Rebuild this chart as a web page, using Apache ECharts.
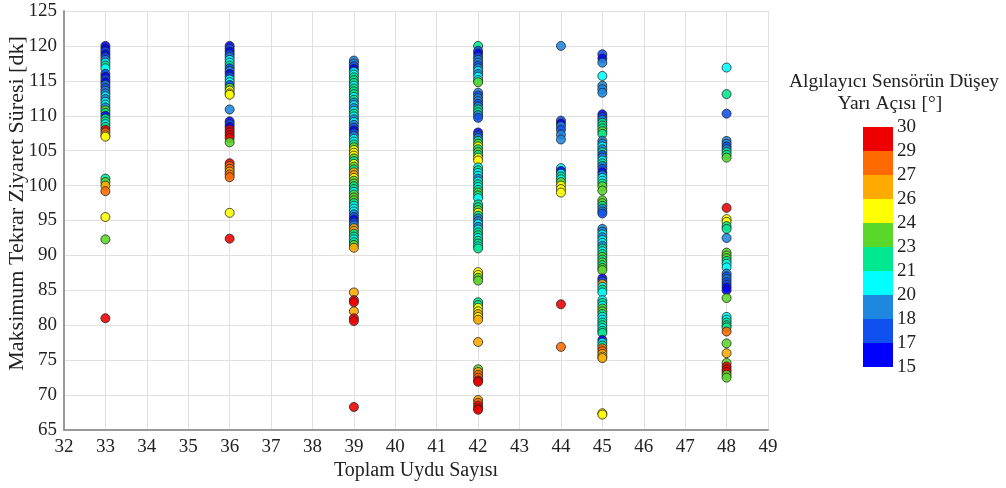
<!DOCTYPE html>
<html>
<head>
  <meta charset="utf-8">
  <title>Toplam Uydu Sayısı</title>
  <script src="https://cdn.jsdelivr.net/npm/echarts@6/dist/echarts.min.js"></script>
  <style>
    body { margin: 0; padding: 0; background: #fff; }
    #main { width: 1006px; height: 488px; }
  </style>
</head>
<body>
<div id="main"></div>
<script>
  // [y, angle] pairs per satellite count
  var col33 = [[120, 16], [119.6, 16], [119.2, 17.5], [118.8, 16], [118.4, 17.5], [118, 19], [117.6, 20.5], [117.2, 22], [116.8, 20.5],
    [116, 17.5], [115.6, 16], [115.2, 17.5], [114.8, 16], [114.4, 19], [114, 17.5], [113.6, 19], [113.2, 19], [112.8, 20.5],
    [112.4, 19], [112, 20.5], [111.6, 20.5], [111.2, 19], [110.8, 23.5], [110.4, 22], [110, 16], [109.6, 22], [109.2, 22],
    [108.8, 20.5], [108.4, 22], [108, 29.5], [107.6, 28], [107.2, 25], [107, 25],
    [101, 22], [100.5, 23.5], [100, 26.5], [99.2, 28], [95.5, 25], [92.3, 23.5], [81, 29.5]];
  var col36 = [[120, 16], [119.6, 17.5], [119.2, 16], [118.8, 17.5], [118.4, 19], [118, 20.5], [117.6, 20.5], [117.2, 22],
    [116.8, 17.5], [116.4, 19], [116, 16], [115.6, 17.5], [115.2, 20.5], [114.8, 20.5], [114.4, 17.5], [114, 23.5],
    [113.6, 25], [113.2, 25], [113, 25], [110.9, 19], [109.2, 16], [108.8, 17], [108.4, 16], [108, 29.5], [107.6, 29.5],
    [107.2, 29.5], [106.8, 29.5], [106.2, 23.5], [103.2, 29.5], [102.8, 28], [102.4, 28], [102, 26.5], [101.6, 28],
    [101.2, 28], [96.1, 25], [92.4, 29.5]];
  var col39 = [[117.9, 19], [117.5, 18], [117.1, 17.5], [116.7, 16], [116.3, 20.5], [115.9, 20.5], [115.5, 22], [115.1, 22],
    [114.7, 22], [114.3, 20.5], [113.9, 22], [113.5, 22], [113.1, 22], [112.7, 20.5], [112.3, 22], [111.9, 19], [111.5, 20.5],
    [111.1, 19], [110.7, 20.5], [110.3, 22], [109.9, 20.5], [109.5, 19], [109.1, 20.5], [108.7, 19], [108.3, 17.5], [107.9, 16],
    [107.5, 17.5], [107.1, 19], [106.7, 20.5], [106.3, 20.5], [105.9, 22], [105.5, 23.5], [105.1, 25], [104.7, 25], [104.3, 25],
    [103.9, 23.5], [103.5, 22], [103.1, 25], [102.7, 23.5], [102.3, 22], [101.9, 26.5], [101.5, 26.5], [101.1, 25], [100.7, 23.5],
    [100.3, 23.5], [99.9, 22], [99.5, 22], [99.1, 20.5], [98.7, 23.5], [98.3, 23.5], [97.9, 23.5], [97.5, 22], [97.1, 20.5],
    [96.7, 20.5], [96.3, 20.5], [95.9, 19], [95.5, 17.5], [95.1, 16], [94.7, 17.5], [94.3, 19], [93.9, 26.5], [93.5, 26.5],
    [93.1, 22], [92.7, 22], [92.3, 20.5], [91.9, 22], [91.5, 23.5], [91.1, 26.5],
    [84.7, 26.5], [83.6, 29.5], [83.3, 29.5], [82, 26.5], [81, 29.5], [80.6, 29.5], [68.3, 29.5]];
  var col42 = [[120, 22], [119.3, 17.5], [118.9, 16], [118.4, 17.5], [118, 18.5], [117.6, 19], [117.2, 17.5], [116.8, 19],
    [116.4, 20.5], [116, 19], [115.6, 20.5], [115.1, 20.5], [114.8, 23.5],
    [113.3, 19], [112.9, 17.5], [112.5, 18.5], [112.1, 19], [111.7, 17.5], [111.3, 19], [110.9, 22], [110.5, 22], [110.1, 19], [109.7, 17.5],
    [107.6, 16], [107.2, 17.5], [106.8, 19], [106.4, 22], [106, 23.5], [105.6, 25], [105.2, 22], [104.8, 23.5], [104.4, 22], [104, 25], [103.6, 25],
    [102.6, 20.5], [102.2, 22], [101.8, 20.5], [101.4, 20.5], [101, 19], [100.6, 20.5], [100.2, 22], [99.8, 20.5], [99.4, 22],
    [99, 23.5], [98.6, 22], [98.2, 20.5],
    [97.3, 22], [96.9, 22], [96.5, 23.5], [96.1, 25], [95.7, 22], [95.3, 19], [94.9, 19], [94.5, 20.5], [94.1, 19], [93.7, 20.5],
    [93.3, 22], [92.9, 22], [92.5, 20.5], [92.1, 22], [91.7, 22], [91.3, 20.5], [91, 22],
    [87.6, 25], [87.2, 25], [86.8, 23.5], [86.4, 23.5],
    [83.3, 22], [82.9, 22], [82.5, 25], [82, 25], [81.6, 26.5], [81.2, 25], [80.8, 26.5],
    [77.6, 26.5],
    [73.7, 23.5], [73.3, 26.5], [72.9, 28], [72.5, 28], [72.1, 29.5], [71.9, 29.5],
    [69.3, 26.5], [68.9, 28], [68.5, 29.5], [68.1, 29.5], [67.9, 29.5]];
  var col44 = [[120, 19], [109.3, 17.5], [108.9, 16.5], [108.5, 18.5], [108, 17.5], [107.3, 19], [106.6, 19],
    [102.5, 20.5], [102.1, 16], [101.7, 20.5], [101.3, 22], [100.9, 20.5], [100.5, 23.5], [100, 25], [99.5, 25], [99, 25],
    [83, 29.5], [76.9, 28]];
  var col45 = [[118.8, 17.5], [118.2, 16.5], [117.6, 18.5], [115.7, 20.5], [114.3, 19], [113.8, 19], [113.3, 19.5],
    [110.2, 16], [109.8, 17.5], [109.4, 19], [109, 21.5], [108.6, 22], [108.2, 22], [107.8, 23.5], [107.4, 22],
    [106.4, 19], [106, 19.5], [105.6, 20.5], [105.2, 19], [104.8, 22], [104.4, 17.5], [104, 19], [103.6, 20.5], [103.2, 22],
    [102.8, 19], [102.4, 17.5], [101.9, 16.5], [101.5, 19], [101.1, 20.5], [100.7, 20.5], [100.3, 22], [99.9, 23.5], [99.3, 23.5],
    [97.9, 23.5], [97.5, 23.5], [97.1, 22], [96.7, 19], [96.3, 19], [96, 17.5],
    [93.8, 19], [93.4, 19], [93, 20.5], [92.6, 19], [92.2, 20.5], [91.8, 20.5], [91.4, 19], [91, 22], [90.6, 20.5], [90.2, 22],
    [89.8, 23.5], [89.4, 22], [89, 23.5], [88.6, 22], [88.2, 23.5], [87.9, 23.5],
    [86.7, 16], [86.3, 17.5], [85.9, 26.5], [85.5, 20.5], [85.1, 22], [84.7, 20.5],
    [83.6, 20.5], [83.2, 22], [82.8, 20.5], [82.4, 23.5], [82, 23.5], [81.6, 22], [81.2, 20.5], [80.8, 20.5], [80.4, 22],
    [80, 22], [79.6, 20.5], [79.2, 22], [78.9, 22],
    [77.9, 16], [77.5, 20.5], [77.1, 22], [76.7, 28], [76.3, 28], [75.9, 26.5], [75.5, 25], [75.3, 26.5],
    [67.4, 25], [67.2, 25]];
  var col48 = [[116.9, 20.5], [113.1, 22], [110.3, 17.5],
    [106.4, 18.5], [106, 19], [105.6, 17.5], [105.2, 19], [104.8, 22], [104.4, 22], [104, 23.5],
    [96.8, 29.5], [95.2, 25], [94.8, 25], [94.2, 22], [93.8, 22], [92.5, 19],
    [90.4, 23.5], [90, 23.5], [89.6, 23.5], [89.2, 22], [88.8, 20.5], [88.3, 20.5],
    [87.4, 19], [87, 17.5], [86.6, 19], [86.2, 17.5], [85.8, 17.5], [85.4, 16.5], [85, 16.5],
    [83.9, 23.5], [81.2, 20.5], [80.8, 20.5], [80.4, 22], [80, 22], [79.7, 22], [79.1, 28],
    [77.4, 23.5], [76, 26.5],
    [74.6, 23.5], [74.1, 29.5], [73.7, 29.5], [73.3, 29.5], [72.9, 23.5], [72.5, 23.5]];

  var satCounts = [33, 36, 39, 42, 44, 45, 48];
  var columns = [col33, col36, col39, col42, col44, col45, col48];

  // colour scale (bottom to top)
  var bounds = [15, 17, 18, 20, 21, 23, 24, 26, 27, 29, 30];
  var binColors = ['#0000ff', '#1050f0', '#1e88e0', '#00ffff', '#00e890', '#5ad82a', '#ffff00', '#ffaa00', '#ff6a00', '#ee0000'];

  var points = [];
  for (var i = 0; i < columns.length; i++) {
    for (var j = 0; j < columns[i].length; j++) {
      points.push([satCounts[i], columns[i][j][0], columns[i][j][1]]);
    }
  }

  var pieces = [];
  for (var k = 0; k < binColors.length; k++) {
    var p = { gte: bounds[k], color: binColors[k] };
    if (k === binColors.length - 1) p.lte = bounds[k + 1]; else p.lt = bounds[k + 1];
    pieces.push(p);
  }

  var serif = '"Liberation Serif", "DejaVu Serif", serif';
  var barTop = 127, barH = 24;
  var graphics = [
    { type: 'text', x: 894, y: 82, style: { text: 'Algılayıcı Sensörün Düşey', font: '19.5px ' + serif, fill: '#222', align: 'center', verticalAlign: 'middle' } },
    { type: 'text', x: 890, y: 104, style: { text: 'Yarı Açısı [°]', font: '19.5px ' + serif, fill: '#222', align: 'center', verticalAlign: 'middle' } }
  ];
  for (var b = 0; b < bounds.length; b++) {
    graphics.push({
      type: 'text', x: 897, y: barTop + b * barH,
      style: { text: String(bounds[bounds.length - 1 - b]), font: '19px ' + serif, fill: '#222', verticalAlign: 'middle' }
    });
  }

  var chart = echarts.init(document.getElementById('main'));
  chart.setOption({
    animation: false,
    backgroundColor: '#fff',
    grid: { left: 64, right: 238, top: 11, bottom: 58, outerBoundsMode: 'none', containLabel: false },
    xAxis: {
      type: 'value', min: 32, max: 49, interval: 1,
      name: 'Toplam Uydu Sayısı', nameLocation: 'middle', nameGap: 31, nameMoveOverlap: false,
      nameTextStyle: { fontFamily: serif, fontSize: 20, color: '#222' },
      axisLine: { lineStyle: { color: '#999', width: 2 } },
      axisTick: { show: false },
      axisLabel: { fontFamily: serif, fontSize: 19, color: '#222', margin: 8 },
      splitLine: { show: true, lineStyle: { color: '#e0e0e0' } }
    },
    yAxis: {
      type: 'value', min: 65, max: 125, interval: 5,
      name: 'Maksimum Tekrar Ziyaret Süresi [dk]', nameLocation: 'middle', nameGap: 36, nameMoveOverlap: false,
      nameTextStyle: { fontFamily: serif, fontSize: 22, color: '#222', padding: [0, 0, 0, 34] },
      axisLine: { show: true, lineStyle: { color: '#999', width: 2 } },
      axisTick: { show: false },
      axisLabel: { fontFamily: serif, fontSize: 19, color: '#222', margin: 7 },
      splitLine: { show: true, lineStyle: { color: '#e0e0e0' } }
    },
    visualMap: {
      type: 'piecewise', dimension: 2, pieces: pieces,
      orient: 'vertical', left: 863, top: barTop,
      itemWidth: 30, itemHeight: barH, itemGap: 0, itemSymbol: 'rect',
      showLabel: false, hoverLink: false, selectedMode: false, padding: 0
    },
    graphic: graphics,
    series: [{
      type: 'scatter',
      symbolSize: 9,
      data: points,
      itemStyle: { borderColor: '#222', borderWidth: 0.9, opacity: 0.88 }
    }]
  });
</script>
</body>
</html>
